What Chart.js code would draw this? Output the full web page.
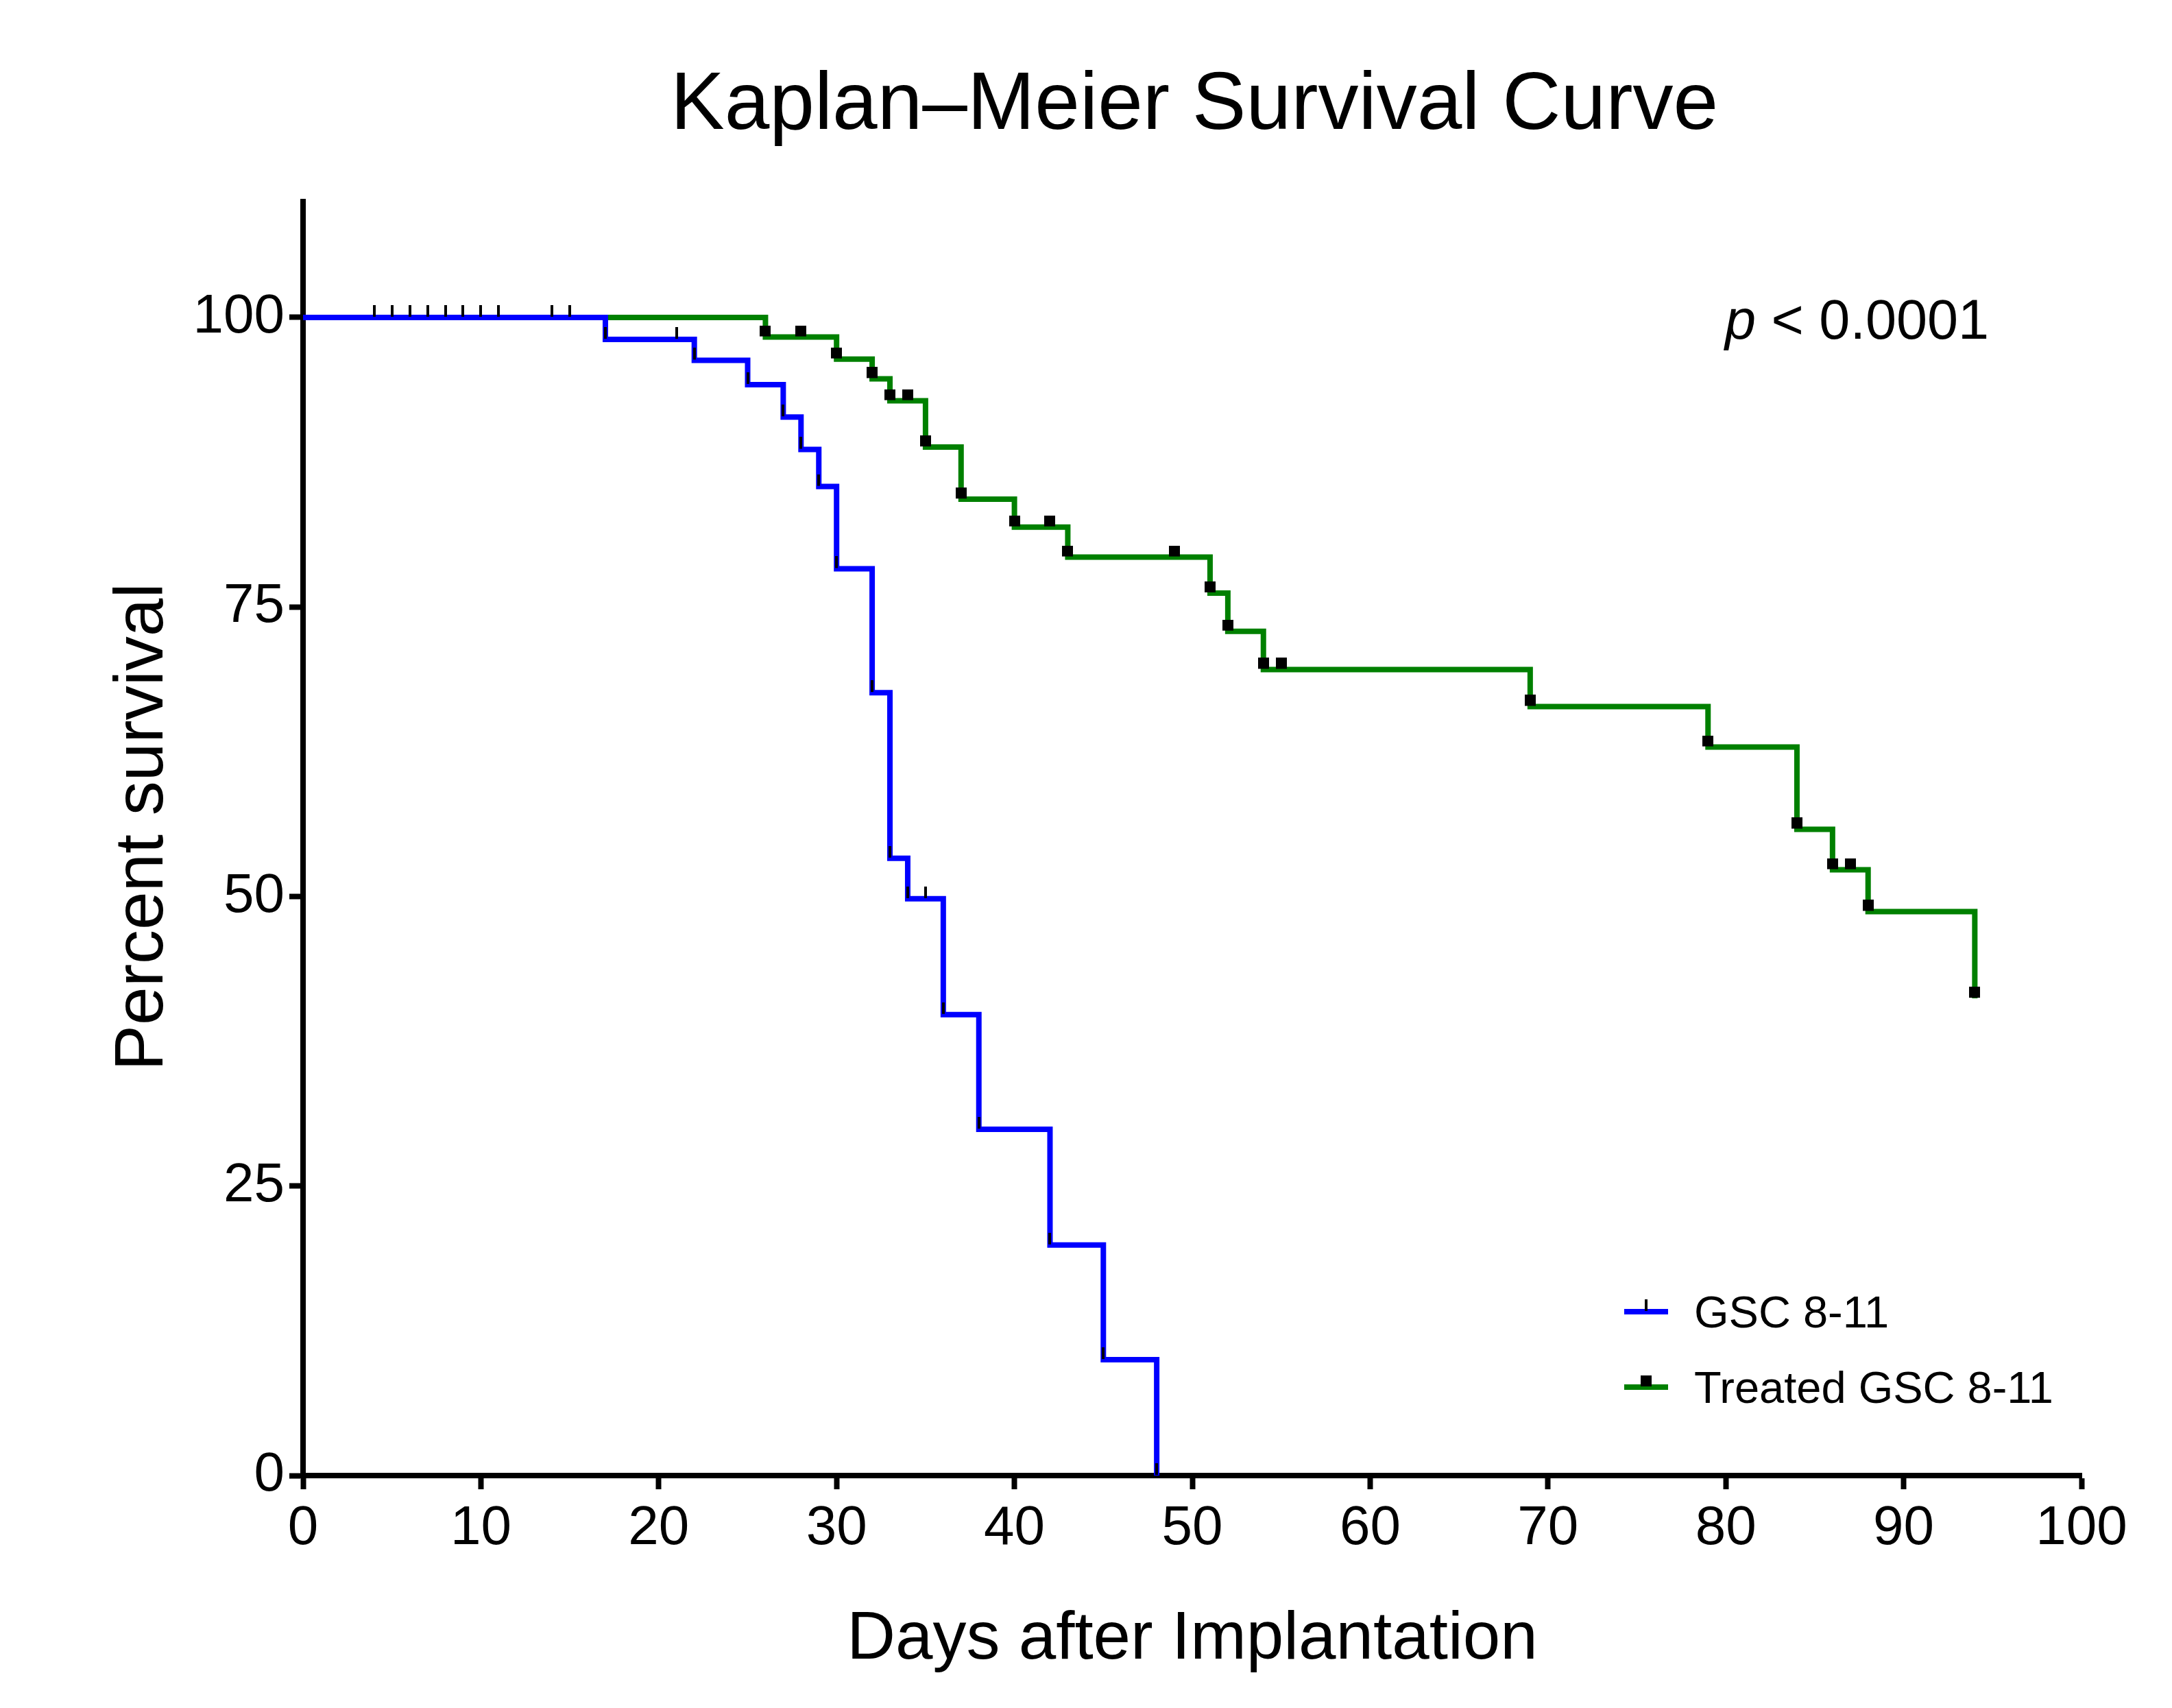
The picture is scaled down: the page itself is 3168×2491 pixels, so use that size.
<!DOCTYPE html>
<html>
<head>
<meta charset="utf-8">
<script src="https://cdn.jsdelivr.net/npm/chart.js@4.4.0/dist/chart.umd.min.js"></script>
<style>
  html, body { margin: 0; padding: 0; background: #fff; }
  canvas { display: block; }
</style>
</head>
<body>
<canvas id="km" width="3168" height="2491"></canvas>
<script>
// GSC 8-11 : every point of the curve (deaths and censored ticks)
const gscDays = [0, 4, 5, 6, 7, 8, 9, 10, 11, 14, 15, 17, 21, 22, 25, 27, 28, 29, 30, 32, 33, 34, 35, 36, 38, 42, 45, 48];
const gscSurv = [100, 100, 100, 100, 100, 100, 100, 100, 100, 100, 100, 98.1, 98.1, 96.3, 94.2, 91.4, 88.6, 85.4, 78.3, 67.6, 53.3, 49.8, 49.8, 39.8, 29.9, 19.9, 10.0, 0];

// Treated GSC 8-11
const treatedDays = [0, 26, 28, 30, 32, 33, 34, 35, 37, 40, 42, 43, 49, 51, 52, 54, 55, 69, 79, 84, 86, 87, 88, 94];
const treatedSurv = [100, 98.3, 98.3, 96.4, 94.7, 92.8, 92.8, 88.8, 84.3, 81.9, 81.9, 79.3, 79.3, 76.2, 72.9, 69.6, 69.6, 66.4, 62.9, 55.8, 52.3, 52.3, 48.7, 41.2];

const yTicks = [0, 25, 50, 75, 100];
const seriesNames = ['GSC 8-11', 'Treated GSC 8-11'];
const pText = '< 0.0001';

const FONT = '"Liberation Sans", Arial, sans-serif';
const BLUE = '#0000ff';
const GREEN = '#008000';

// markers sit on top of the line, like the prism symbols
function tickMark() {
    const c = document.createElement('canvas');
    c.width = 4; c.height = 36;
    const g = c.getContext('2d');
    g.fillStyle = '#000';
    g.fillRect(0, 0, 4, 17);
    return c;
}
function squareMark() {
    const c = document.createElement('canvas');
    c.width = 16; c.height = 34;
    const g = c.getContext('2d');
    g.fillStyle = '#000';
    g.fillRect(0, 0, 16, 16);
    return c;
}
const tickImg = tickMark();
const squareImg = squareMark();

const toPoints = (xs, ys) => xs.map((x, i) => ({ x: x, y: ys[i] }));

const extras = {
    id: 'extras',
    afterDraw(chart) {
        const ctx = chart.ctx;
        ctx.save();
        ctx.fillStyle = '#000';
        ctx.textBaseline = 'alphabetic';

        // title
        ctx.font = '118px ' + FONT;
        ctx.textAlign = 'center';
        ctx.fillText('Kaplan\u2013Meier Survival Curve', 1742, 188);

        // y axis title
        ctx.save();
        ctx.translate(209, 1206);
        ctx.rotate(-Math.PI / 2);
        ctx.font = '100px ' + FONT;
        ctx.textBaseline = 'middle';
        ctx.fillText('Percent survival', 0, 0);
        ctx.restore();

        // p value
        ctx.textAlign = 'left';
        ctx.font = 'italic 81px ' + FONT;
        ctx.fillText('p', 2516, 494);
        const w = ctx.measureText('p ').width;
        ctx.font = '81px ' + FONT;
        ctx.fillText(pText, 2516 + w, 494);

        // legend
        const rows = [
            { label: seriesNames[0], color: BLUE, img: tickImg, y: 1913 },
            { label: seriesNames[1], color: GREEN, img: squareImg, y: 2023 }
        ];
        ctx.font = '65px ' + FONT;
        rows.forEach(r => {
            ctx.strokeStyle = r.color;
            ctx.lineWidth = 8;
            ctx.beginPath();
            ctx.moveTo(2369, r.y);
            ctx.lineTo(2433, r.y);
            ctx.stroke();
            ctx.drawImage(r.img, 2401 - r.img.width / 2, r.y - r.img.height / 2);
            ctx.fillStyle = '#000';
            ctx.fillText(r.label, 2471, r.y + 23);
        });
        ctx.restore();
    }
};

Chart.defaults.color = '#000';
Chart.defaults.font.family = FONT;

new Chart(document.getElementById('km'), {
    type: 'line',
    data: {
        datasets: [
            {
                label: seriesNames[0],
                data: toPoints(gscDays, gscSurv),
                borderColor: BLUE,
                borderWidth: 8,
                stepped: 'before',
                fill: false,
                pointStyle: tickImg,
                pointRadius: c => c.dataIndex === 0 ? 0 : 10
            },
            {
                label: seriesNames[1],
                data: toPoints(treatedDays, treatedSurv),
                borderColor: GREEN,
                borderWidth: 8,
                stepped: 'before',
                fill: false,
                pointStyle: squareImg,
                pointRadius: c => c.dataIndex === 0 ? 0 : 10
            }
        ]
    },
    options: {
        responsive: false,
        animation: false,
        events: [],
        devicePixelRatio: 1,
        layout: { padding: { top: 294, right: 132, bottom: 0, left: 0 } },
        plugins: {
            legend: { display: false },
            tooltip: { enabled: false }
        },
        scales: {
            x: {
                type: 'linear',
                min: 0,
                max: 100,
                ticks: { stepSize: 10, padding: 10, font: { size: 80 } },
                grid: { drawOnChartArea: false, drawTicks: true, tickLength: 20, tickWidth: 8, tickColor: '#000' },
                border: { color: '#000', width: 8 },
                title: { display: true, text: 'Days after Implantation', font: { size: 98 }, padding: { top: 0, bottom: 40 } },
                afterFit: s => { s.height = 339; }
            },
            y: {
                min: 0,
                max: 110,
                afterBuildTicks: s => { s.ticks = yTicks.map(v => ({ value: v })); },
                ticks: { padding: 7, font: { size: 80 } },
                grid: { drawOnChartArea: false, drawTicks: true, tickLength: 20, tickWidth: 8, tickColor: '#000' },
                border: { color: '#000', width: 8 },
                title: { display: false },
                afterFit: s => { s.width = 442; }
            }
        }
    },
    plugins: [extras]
});
</script>
</body>
</html>
